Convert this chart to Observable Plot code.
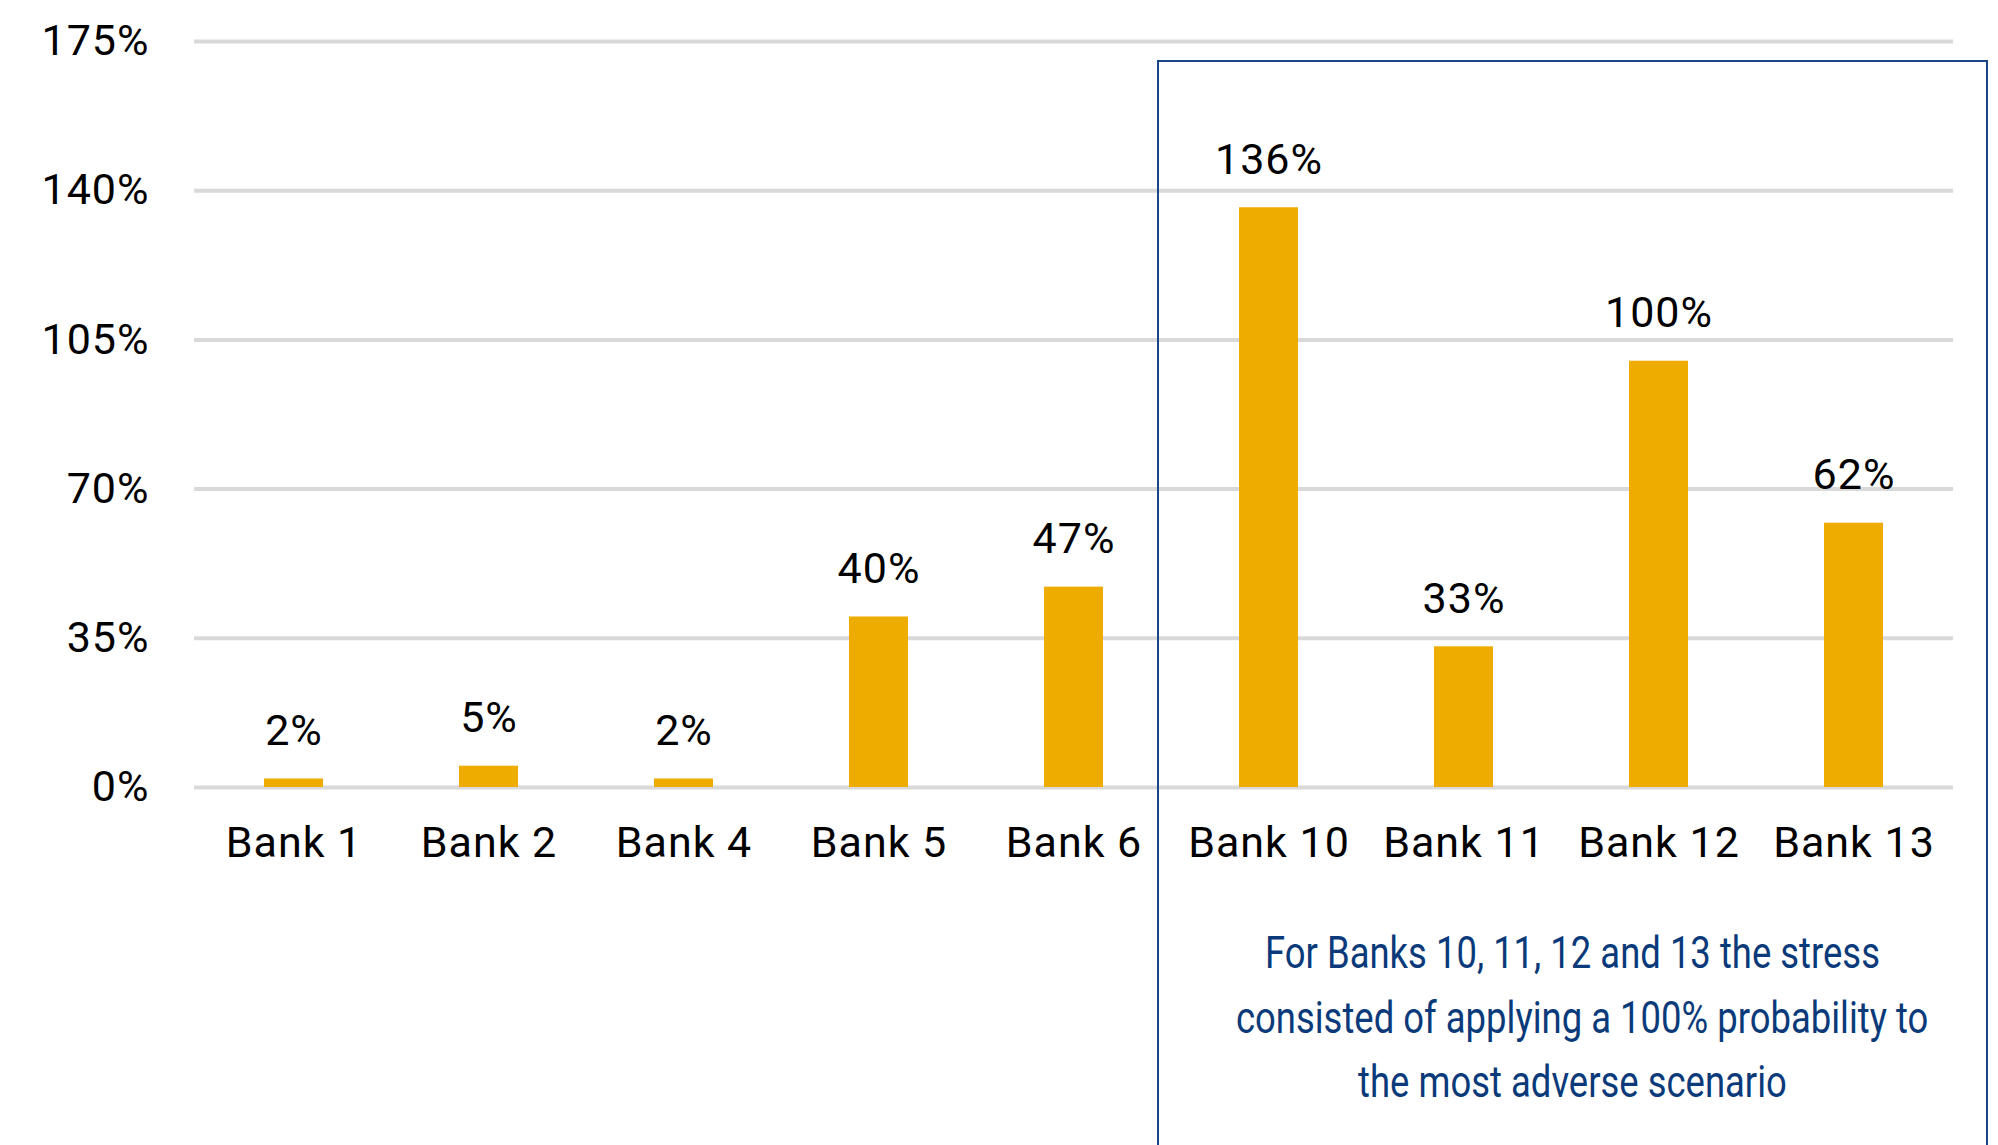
<!DOCTYPE html>
<html>
<head>
<meta charset="utf-8">
<script src="https://cdn.jsdelivr.net/npm/d3@7"></script>
<script src="https://cdn.jsdelivr.net/npm/@observablehq/plot@0.6"></script>
<style>
  html, body { margin: 0; padding: 0; background: #fff; overflow: hidden; }
  #wrap { position: relative; width: 1998px; height: 1145px; }
  #note {
    position: absolute; left: 1157px; top: 60px; width: 831px; height: 1200px;
    border: 2px solid #1B4585; box-sizing: border-box;
  }
  #notetext {
    position: absolute; left: 1157px; width: 831px; top: 921px;
    text-align: center; color: #0A3A7A;
    font-family: Roboto, "DejaVu Sans", sans-serif;
    font-size: 45px; line-height: 64.5px;
    transform: scaleX(0.81); transform-origin: 50% 50%;
    white-space: nowrap;
  }
  svg text { font-family: Roboto, "DejaVu Sans", sans-serif; letter-spacing: 1px; }
</style>
</head>
<body>
<div id="wrap"></div>
<script>
const banks = ["Bank 1", "Bank 2", "Bank 4", "Bank 5", "Bank 6", "Bank 10", "Bank 11", "Bank 12", "Bank 13"];
const values = [2, 5, 2, 40, 47, 136, 33, 100, 62];
const yTicks = [0, 35, 70, 105, 140, 175];
const noteLines = [
  "For Banks 10, 11, 12 and 13 the stress",
  "consisted of applying a 100% probability to",
  "the most adverse scenario"
];

const data = banks.map((b, i) => ({bank: b, value: values[i]}));

const chart = Plot.plot({
  width: 1998,
  height: 1145,
  marginTop: 41,
  marginBottom: 358,
  marginLeft: 194,
  marginRight: 45,
  style: {fontSize: "43px", color: "#000", background: "#fff"},
  x: {domain: banks, paddingInner: 0.7, paddingOuter: 0.35, label: null},
  y: {domain: [0, 175], ticks: yTicks, label: null},
  marks: [
    Plot.ruleY(yTicks, {stroke: "#d9d9d9", strokeWidth: 4}),
    Plot.barY(data, {x: "bank", y: "value", fill: "#EFAC00"}),
    Plot.text(data, {x: "bank", y: "value", text: d => d.value + "%", dy: -48, fill: "#000", fontSize: 43}),
    Plot.axisY({ticks: yTicks, tickSize: 0, tickPadding: 45, tickFormat: d => d + "%", fontSize: 43, label: null}),
    Plot.axisX({tickSize: 0, tickPadding: 39, fontSize: 43, label: null})
  ]
});

const wrap = document.getElementById("wrap");
wrap.appendChild(chart);
const box = document.createElement("div");
box.id = "note";
wrap.appendChild(box);
const txt = document.createElement("div");
txt.id = "notetext";
txt.innerHTML = noteLines.join("<br>");
wrap.appendChild(txt);
</script>
</body>
</html>
